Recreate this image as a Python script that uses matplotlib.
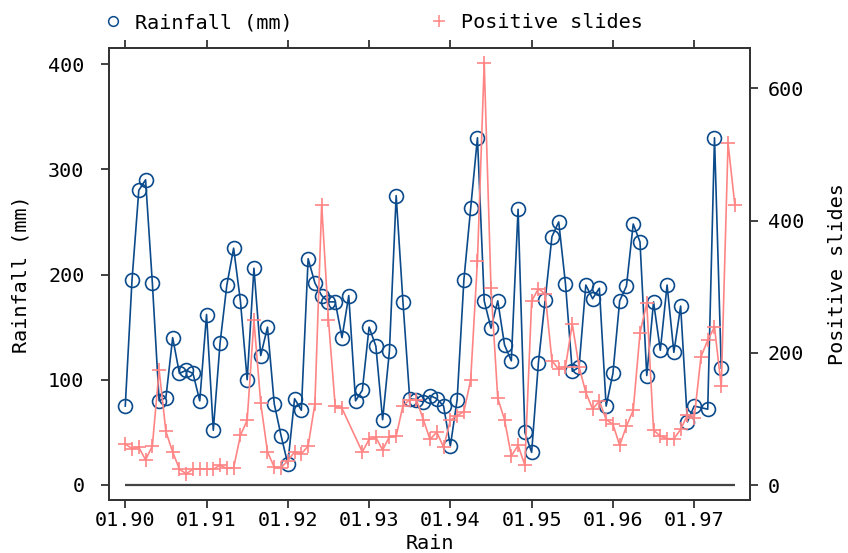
import numpy as np
import matplotlib
matplotlib.use("Agg")
import matplotlib.pyplot as plt
from matplotlib.lines import Line2D

# Monthly series starting January 1990 (month index 0 = 01.90)
rainfall_mm = [
    75, 195, 280, 290, 192, 80, 83, 140, 106, 109, 106, 80,
    162, 52, 135, 190, 225, 175, 100, 206, 123, 150, 77, 47,
    20, 82, 71, 215, 192, 180, 174, 174, 140, 180, 80, 90,
    150, 132, 62, 127, 275, 174, 82, 81, 79, 85, 82, 75,
    37, 81, 195, 263, 330, 175, 149, 175, 133, 118, 262, 50,
    31, 116, 176, 236, 250, 191, 108, 112, 190, 177, 187, 75,
    106, 175, 189, 248, 231, 104, 174, 128, 190, 126, 170, 60,
    75, None, 72, 330, 111,
]
positive_slides = [
    62, 55, 57, 38, 59, 174, 81, 50, 24, 17, 24, 24,
    24, 24, 30, 25, 26, 75, 98, 249, 124, 50, 27, 26,
    37, 50, 47, 59, 123, 424, 250, 119, 116, None, None, 50,
    69, 72, 53, 73, 74, 120, 129, 129, 99, 69, 80, 57,
    98, 105, 111, 159, 339, 638, 298, 131, 99, 44, 60, 30,
    278, 297, 289, 188, 175, 179, 244, 179, 140, 115, 127, 99,
    92, 60, 89, 113, 230, 275, 83, 74, 70, 70, 84, 106,
    101, 194, 219, 239, 149, 517, 424,
]
xtick_months = [0, 12, 24, 36, 48, 60, 72, 84]
xtick_labels = ["01.90", "01.91", "01.92", "01.93", "01.94", "01.95", "01.96", "01.97"]
left_ticks = [0, 100, 200, 300, 400]
right_ticks = [0, 200, 400, 600]

rain = np.array(rainfall_mm, dtype=float)
slides = np.array(positive_slides, dtype=float)
m_rain = np.arange(len(rain))
m_slides = np.arange(len(slides))

BLUE = "#0b4a8b"
PINK = "#ff8585"
FRAME = "#333333"
FONT = "DejaVu Sans Mono"
FS = 14.5

plt.rcParams["font.family"] = FONT

fig = plt.figure(figsize=(8.48, 5.53), dpi=100)
ax = fig.add_axes([0.1291, 0.0958, 0.7550, 0.8169])
ax2 = ax.twinx()

# zero baseline across the full observation window
ax.hlines(0, m_slides[0], m_slides[-1], color="#444444", lw=1.6, zorder=1)

# missing months are skipped, the line connects across them
ok = ~np.isnan(rain)
ax.plot(m_rain[ok], rain[ok], color=BLUE, lw=1.2, marker="o", ms=10,
        mfc="none", mec=BLUE, mew=1.2, zorder=3)
ok2 = ~np.isnan(slides)
ax2.plot(m_slides[ok2], slides[ok2], color=PINK, lw=1.2, marker="+", ms=10,
         mec=PINK, mew=1.2, zorder=3)

ax.set_xlim(-2.33, 92.2)
ax.set_ylim(-14.3, 415.0)
ax2.set_ylim(-22.7, 660.5)

ax.set_xticks(xtick_months)
ax.set_xticklabels(xtick_labels)
ax.set_yticks(left_ticks)
ax2.set_yticks(right_ticks)

for a in (ax, ax2):
    for s in a.spines.values():
        s.set_color(FRAME)
        s.set_linewidth(1.3)

ax.tick_params(axis="x", which="both", direction="out", length=6, width=1.3,
               color=FRAME, labelsize=FS, pad=2, top=True, labeltop=False)
ax.tick_params(axis="y", direction="out", length=6, width=1.3, color=FRAME,
               labelsize=FS, pad=12)
ax2.tick_params(axis="y", direction="out", length=6, width=1.3, color=FRAME,
                labelsize=FS, pad=7)

ax.set_xlabel("Rain", fontsize=FS)
ax.xaxis.set_label_coords(0.5, -0.075)
ax.set_ylabel("Rainfall (mm)", fontsize=FS)
ax.yaxis.set_label_coords(-0.123, 0.5)
ax2.set_ylabel("Positive slides", fontsize=FS, rotation=90)
ax2.yaxis.set_label_coords(1.123, 0.5)

handles = [
    Line2D([], [], ls="none", marker="o", ms=7, mfc="none", mec=BLUE, mew=1.1),
    Line2D([], [], ls="none", marker="+", ms=9, mec=PINK, mew=1.1),
]
fig.legend(handles, ["Rainfall (mm)", "Positive slides"], ncol=2,
           loc="center left", bbox_to_anchor=(103 / 848, 1 - 23 / 553),
           frameon=False, fontsize=FS, borderpad=0, borderaxespad=0,
           handlelength=1.0, handletextpad=0.6, columnspacing=6.75)

fig.savefig("out.png", dpi=100)
